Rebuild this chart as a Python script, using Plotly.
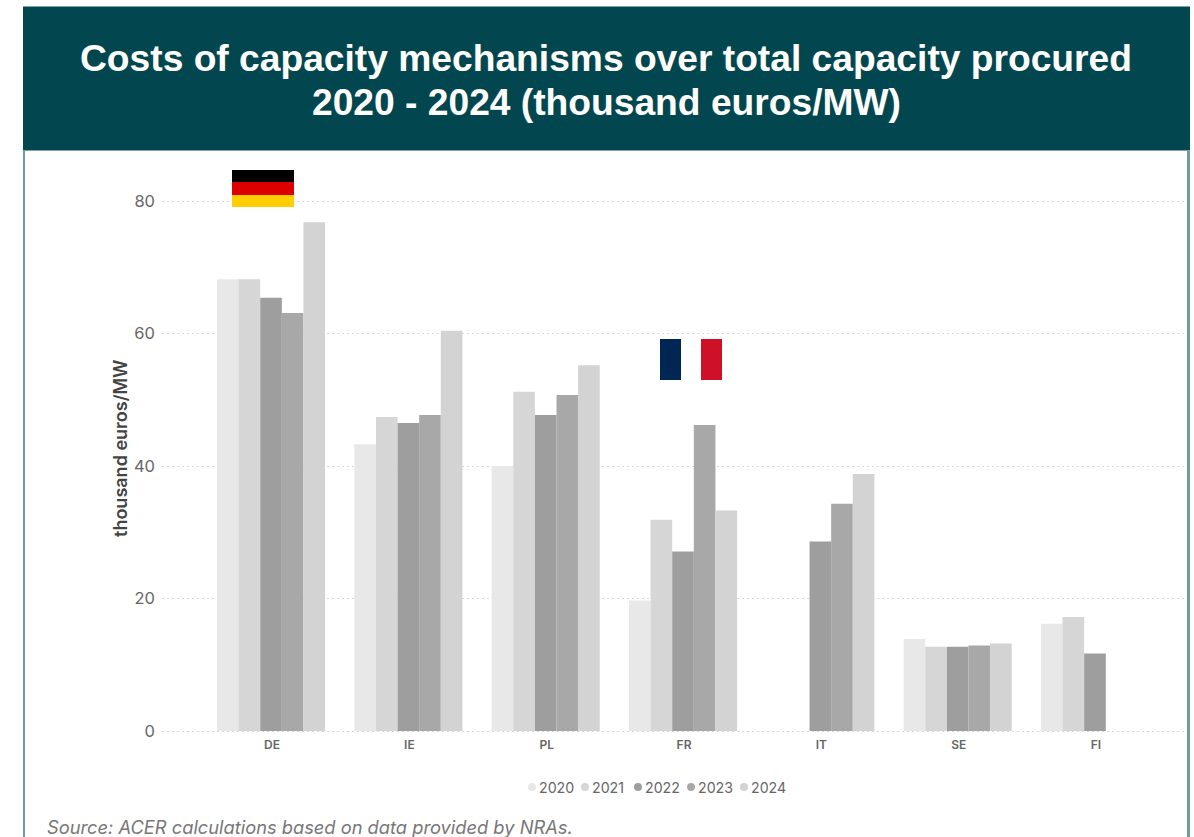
import plotly.graph_objects as go

COUNTRIES = ["DE", "IE", "PL", "FR", "IT", "SE", "FI"]
YEARS = ["2020", "2021", "2022", "2023", "2024"]
COLORS = ["#e8e8e8", "#d6d6d6", "#9e9e9e", "#a8a8a8", "#d3d3d3"]

V2020 = [68.2, 43.3, 40.0, 19.7, None, 13.9, 16.2]
V2021 = [68.2, 47.4, 51.2, 31.9, None, 12.7, 17.2]
V2022 = [65.4, 46.5, 47.7, 27.1, 28.6, 12.7, 11.7]
V2023 = [63.1, 47.7, 50.7, 46.2, 34.3, 12.9, None]
V2024 = [76.8, 60.4, 55.2, 33.3, 38.8, 13.2, None]
SERIES = [V2020, V2021, V2022, V2023, V2024]

TITLE_LINES = ["Costs of capacity mechanisms over total capacity procured",
               "2020 - 2024 (thousand euros/MW)"]
SOURCE = "Source: ACER calculations based on data provided by NRAs."

W, H = 1194, 837
L, R, T, B = 162, 7, 198, 103
TEAL = "#02474f"
EDGE = "#6f9aa0"


def px(x):
    return (x - L) / (W - L - R)


def py(y):
    return 1 - (y - T) / (H - T - B)


def rect(x0, y0, x1, y1, color):
    return dict(type="rect", xref="paper", yref="paper", x0=px(x0), x1=px(x1),
                y0=py(y0), y1=py(y1), fillcolor=color, line_width=0, layer="above")


def label(text, x, y, font, xanchor="center", **extra):
    return dict(text=text, xref="paper", yref="paper", x=px(x), y=py(y), xanchor=xanchor,
                yanchor="middle", showarrow=False, font=font, **extra)


fig = go.Figure()
for year, values, color in zip(YEARS, SERIES, COLORS):
    fig.add_bar(name=year, x=COUNTRIES, y=values, marker_color=color,
                marker_line_width=0, showlegend=False)

shapes = [
    # header band and panel edges
    rect(23, 6, 1190, 7, "#7fa3a8"),
    rect(23, 7, 1190, 150, TEAL),
    rect(23, 150, 1190, 151, "#7fa3a8"),
    rect(23, 151, 25, 837, EDGE),
    rect(1187, 151, 1190, 837, EDGE),
    # flags
    rect(232, 170, 294, 182, "#000000"),
    rect(232, 182, 294, 195, "#dd0000"),
    rect(232, 195, 294, 207, "#ffce00"),
    rect(660, 339, 681, 380, "#002654"),
    rect(681, 339, 701, 380, "#ffffff"),
    rect(701, 339, 722, 380, "#ce1126"),
]

title_font = dict(family="Liberation Sans", size=37.2, color="white", weight="bold")
annotations = [
    label(TITLE_LINES[0], 606, 58, title_font),
    label(TITLE_LINES[1], 606, 102, title_font),
    label(SOURCE, 45, 827, dict(family="Inter", size=18.3, color="#777777", style="italic"),
          xanchor="left"),
    label("thousand euros/MW", 120, 449, dict(family="Inter", size=18, color="#444444", weight=600),
          textangle=-90),
]

# year key: dot followed by its label
KEY_X = [532, 585, 638, 691, 744]
for year, color, cx in zip(YEARS, COLORS, KEY_X):
    shapes.append(dict(type="circle", xref="paper", yref="paper", x0=px(cx - 4), x1=px(cx + 4),
                       y0=py(791), y1=py(783), fillcolor=color, line_width=0, layer="above"))
    annotations.append(label(year, cx + 5, 787, dict(family="Inter", size=14.2, color="#666666"),
                             xanchor="left"))

# the range runs 3 px past 0 and 80 so both end gridlines are kept
fig.update_layout(
    width=W, height=H, autosize=False,
    margin=dict(l=L, r=R, t=T, b=B),
    paper_bgcolor="white", plot_bgcolor="white",
    barmode="group", bargap=0.213, bargroupgap=0,
    showlegend=False,
    shapes=shapes, annotations=annotations,
    xaxis=dict(type="category", range=[-0.794, 6.67], showgrid=False, zeroline=False,
               showline=False, ticks="", ticklabelstandoff=2, ticklabelshift=1,
               tickfont=dict(family="Inter", size=12, color="#666666", weight=600)),
    yaxis=dict(range=[-0.453, 80.453], tickvals=[0, 20, 40, 60, 80], showgrid=True,
               griddash="2px,3px", gridcolor="#d8d8d8", gridwidth=1, zeroline=False,
               showline=False, ticks="", ticklabelstandoff=6,
               tickfont=dict(family="Inter", size=16.5, color="#666666")),
)

fig.write_html("out.html", config={"displayModeBar": False})
